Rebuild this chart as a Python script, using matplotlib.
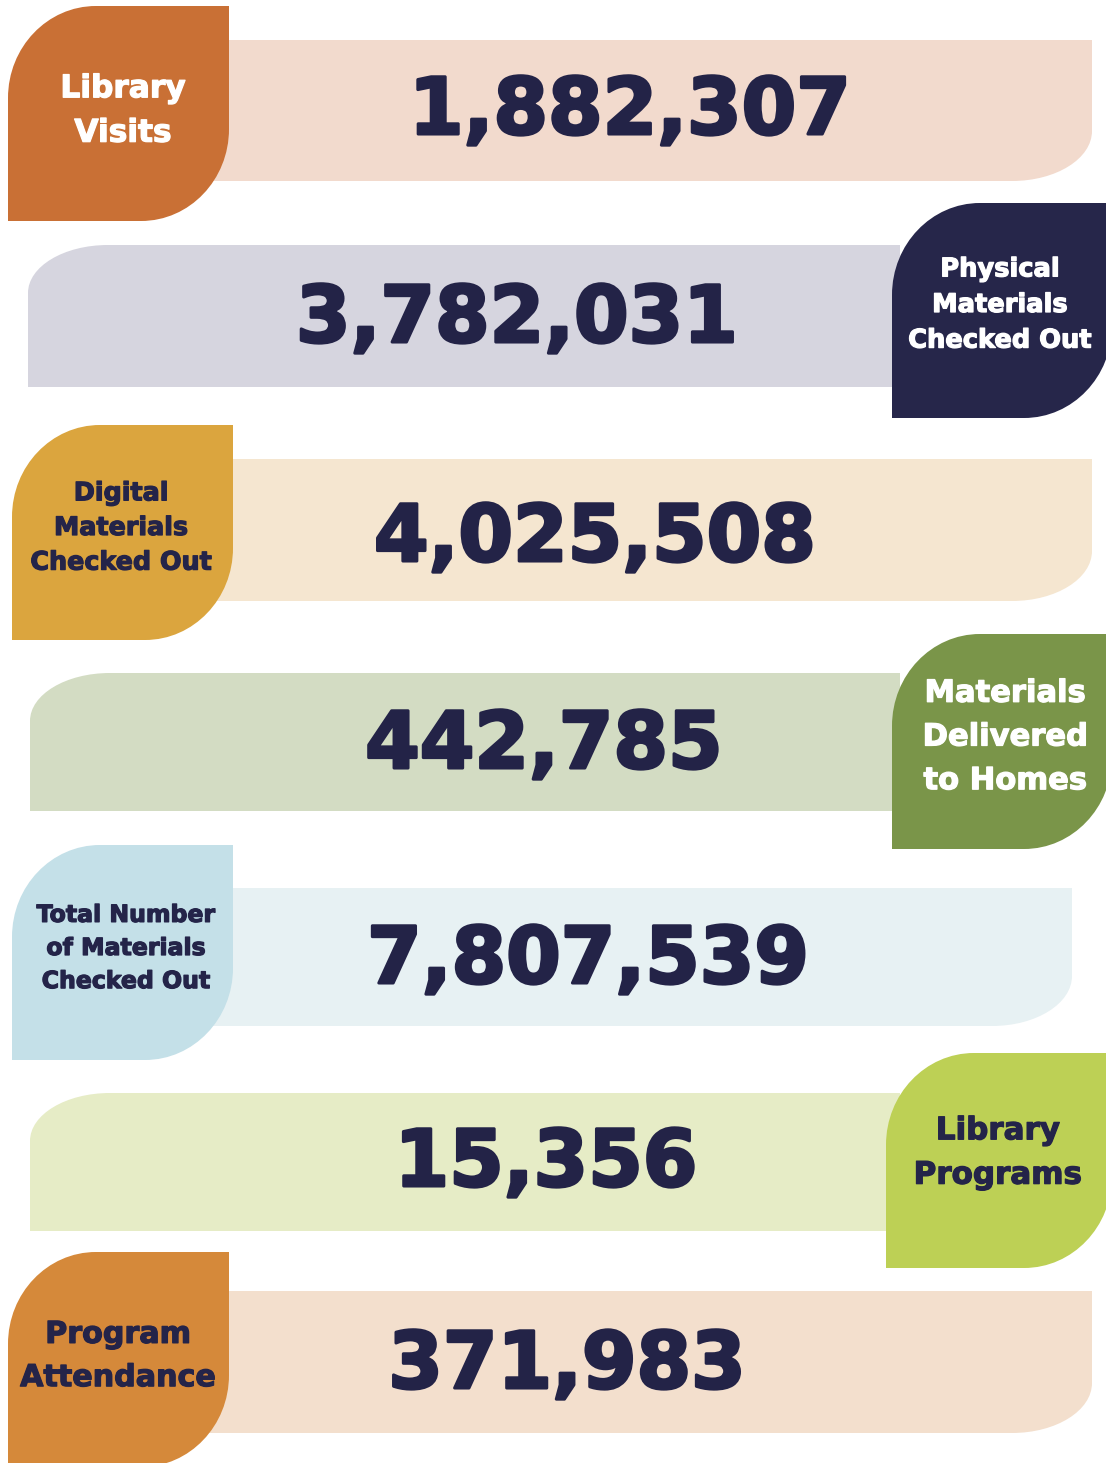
import matplotlib
matplotlib.use("Agg")
import matplotlib.pyplot as plt
import matplotlib.patheffects as pe
from matplotlib.path import Path
from matplotlib.patches import PathPatch

# ---------------- data ----------------
labels = ["Library\nVisits",
          "Physical\nMaterials\nChecked Out",
          "Digital\nMaterials\nChecked Out",
          "Materials\nDelivered\nto Homes",
          "Total Number\nof Materials\nChecked Out",
          "Library\nPrograms",
          "Program\nAttendance"]
values = [1882307, 3782031, 4025508, 442785, 7807539, 15356, 371983]

badge_colors = ["#C97035", "#26264A", "#DBA53E", "#7A9549", "#C4E0E8", "#BDD055", "#D5893A"]
bar_colors = ["#F2DACD", "#D6D5DF", "#F5E6D0", "#D3DCC3", "#E7F1F3", "#E6ECC6", "#F3DFCD"]
label_colors = ["white", "white", "#242449", "white", "#242449", "#242449", "#242449"]
number_color = "#232347"

# ---------------- layout ----------------
W, H = 1106, 1463
badge_side = ["left", "right", "left", "right", "left", "right", "left"]
bar_tops = [40, 245, 459, 673, 888, 1093, 1291]
bar_heights = [141, 142, 142, 138, 138, 138, 142]
bar_right = [1092, 900, 1092, 900, 1072, 900, 1092]
bar_left = [200, 28, 200, 30, 200, 30, 200]
badge_x = [(8, 229), (892, 1112), (12, 233), (892, 1112), (12, 233), (886, 1112), (8, 229)]
badge_tops = [6, 203, 425, 634, 845, 1053, 1252]
badge_h = 215
number_x = [630, 517, 595, 544, 588, 546, 567]
number_y = [112, 320, 539, 746, 961, 1164, 1366]
label_x = [123, 1000, 121, 1005, 126, 998, 118]
label_y = [111, 305, 528, 737, 948, 1153, 1356]
label_sizes = [22.5, 18.5, 18.3, 22, 17, 22.3, 21.7]
label_spacing = [1.67, 1.48, 1.56, 1.64, 1.48, 1.67, 1.62]
number_size = 56.5


def rounded_shape(x0, y0, x1, y1, tl=(0, 0), tr=(0, 0), br=(0, 0), bl=(0, 0)):
    # y grows downward (axis is inverted), radii are (rx, ry)
    k = 0.5523
    verts = [(x0 + tl[0], y0), (x1 - tr[0], y0)]
    codes = [Path.MOVETO, Path.LINETO]
    verts += [(x1 - tr[0] + k * tr[0], y0), (x1, y0 + tr[1] - k * tr[1]), (x1, y0 + tr[1])]
    codes += [Path.CURVE4] * 3
    verts.append((x1, y1 - br[1]))
    codes.append(Path.LINETO)
    verts += [(x1, y1 - br[1] + k * br[1]), (x1 - br[0] + k * br[0], y1), (x1 - br[0], y1)]
    codes += [Path.CURVE4] * 3
    verts.append((x0 + bl[0], y1))
    codes.append(Path.LINETO)
    verts += [(x0 + bl[0] - k * bl[0], y1), (x0, y1 - bl[1] + k * bl[1]), (x0, y1 - bl[1])]
    codes += [Path.CURVE4] * 3
    verts.append((x0, y0 + tl[1]))
    codes.append(Path.LINETO)
    verts += [(x0, y0 + tl[1] - k * tl[1]), (x0 + tl[0] - k * tl[0], y0), (x0 + tl[0], y0)]
    codes += [Path.CURVE4] * 3
    verts.append((x0 + tl[0], y0))
    codes.append(Path.CLOSEPOLY)
    return Path(verts, codes)


fig = plt.figure(figsize=(W / 100, H / 100), dpi=100)
fig.patch.set_facecolor("white")
ax = fig.add_axes([0, 0, 1, 1])
ax.set_xlim(0, W)
ax.set_ylim(H, 0)
ax.axis("off")

for i in range(len(values)):
    top = bar_tops[i]
    bottom = top + bar_heights[i]
    if badge_side[i] == "left":
        bar = rounded_shape(bar_left[i], top, bar_right[i], bottom, br=(80, 50))
    else:
        bar = rounded_shape(bar_left[i], top, bar_right[i], bottom, tl=(80, 48))
    ax.add_patch(PathPatch(bar, facecolor=bar_colors[i], edgecolor="none", zorder=1))

    bx0, bx1 = badge_x[i]
    by0 = badge_tops[i]
    leaf = rounded_shape(bx0, by0, bx1, by0 + badge_h, tl=(88, 92), br=(88, 92))
    ax.add_patch(PathPatch(leaf, facecolor=badge_colors[i], edgecolor="none", zorder=2))

    ax.text(label_x[i], label_y[i], labels[i], ha="center", va="center",
            ma="center", color=label_colors[i], fontsize=label_sizes[i],
            fontweight="bold", family=["DejaVu Sans"], linespacing=label_spacing[i], zorder=3,
            path_effects=[pe.withStroke(linewidth=0.9, foreground=label_colors[i])])

    ax.text(number_x[i], number_y[i], f"{values[i]:,}", ha="center",
            va="center", color=number_color, fontsize=number_size, fontweight="bold",
            family=["DejaVu Sans"], zorder=3,
            path_effects=[pe.withStroke(linewidth=2.2, foreground=number_color)])

fig.savefig("out.png", dpi=100, facecolor="white")
